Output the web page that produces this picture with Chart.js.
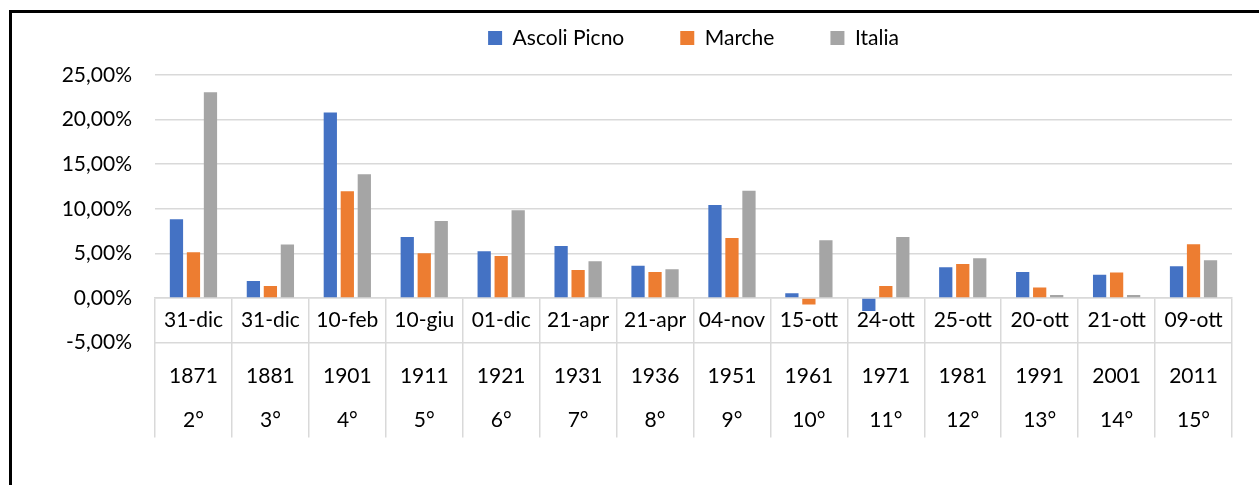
<!DOCTYPE html>
<html>
<head>
    <script src="https://cdn.jsdelivr.net/npm/chart.js@4.4.0/dist/chart.umd.min.js"></script>
    <style>
    body {
        margin: 0;
        background-color: #ffffff;
        overflow: hidden;
    }
    #frame {
        position: absolute;
        left: 9px;
        top: 10px;
        width: 1400px;
        height: 600px;
        border: 3px solid #000000;
    }
    #myChart {
        position: absolute;
        left: 0;
        top: 0;
    }
    </style>
    <title>Censimenti</title>
</head>
<body>

<div id="frame"></div>
<canvas id="myChart" width="1259" height="485"></canvas>

<script>
    // category levels (date, year, census number)
    var dates = ['31-dic', '31-dic', '10-feb', '10-giu', '01-dic', '21-apr', '21-apr', '04-nov', '15-ott', '24-ott', '25-ott', '20-ott', '21-ott', '09-ott'];
    var years = ['1871', '1881', '1901', '1911', '1921', '1931', '1936', '1951', '1961', '1971', '1981', '1991', '2001', '2011'];
    var censuses = ['2°', '3°', '4°', '5°', '6°', '7°', '8°', '9°', '10°', '11°', '12°', '13°', '14°', '15°'];

    // growth in percent
    var ascoli = [8.82, 1.90, 20.80, 6.84, 5.23, 5.83, 3.62, 10.43, 0.52, -1.46, 3.44, 2.91, 2.61, 3.55];
    var marche = [5.12, 1.35, 11.96, 5.00, 4.70, 3.14, 2.91, 6.73, -0.75, 1.35, 3.81, 1.16, 2.84, 6.02];
    var italia = [23.06, 6.00, 13.87, 8.63, 9.83, 4.11, 3.21, 12.03, 6.47, 6.84, 4.45, 0.34, 0.34, 4.23];

    var yTicks = [-5, 0, 5, 10, 15, 20, 25];

    Chart.defaults.font.family = 'Lato';
    Chart.defaults.font.size = 21;
    Chart.defaults.color = '#000000';

    var gridColor = '#d9d9d9';

    var ctx = document.getElementById('myChart').getContext('2d');
    var myChart = new Chart(ctx, {
        type: 'bar',
        data: {
            labels: dates,
            datasets: [
                { label: 'Ascoli Picno', data: ascoli, backgroundColor: '#4472c4' },
                { label: 'Marche', data: marche, backgroundColor: '#ed7d31' },
                { label: 'Italia', data: italia, backgroundColor: '#a5a5a5' }
            ]
        },
        options: {
            responsive: false,
            animation: false,
            categoryPercentage: 0.663,
            barPercentage: 0.78,
            layout: {
                padding: { top: -28.5, left: 0, right: 27, bottom: 142.5 }
            },
            scales: {
                y: {
                    min: yTicks[0],
                    max: yTicks[yTicks.length - 1],
                    afterBuildTicks: function (scale) {
                        scale.ticks = yTicks.map(function (v) { return { value: v }; });
                    },
                    afterFit: function (scale) {
                        scale.width = 155;
                    },
                    ticks: {
                        padding: 23,
                        callback: function (v) {
                            return v.toFixed(2).replace('.', ',') + '%';
                        }
                    },
                    grid: { color: gridColor, lineWidth: 1.5, drawTicks: false },
                    border: { display: false }
                },
                x: {
                    position: { y: 0 },
                    offset: true,
                    grid: {
                        offset: true,
                        drawOnChartArea: false,
                        drawTicks: true,
                        tickLength: 139,
                        color: gridColor,
                        lineWidth: 1.5
                    },
                    border: { display: true, color: gridColor, width: 1.5 },
                    ticks: { padding: -129.6, autoSkip: false, maxRotation: 0 }
                },
                // second and third label rows: hidden ticks push the text down
                x2: {
                    type: 'category',
                    labels: years,
                    position: { y: 0 },
                    offset: true,
                    grid: { display: false, drawTicks: true, tickLength: 65.4 },
                    border: { display: false },
                    ticks: { padding: 0, autoSkip: false, maxRotation: 0 }
                },
                x3: {
                    type: 'category',
                    labels: censuses,
                    position: { y: 0 },
                    offset: true,
                    grid: { display: false, drawTicks: true, tickLength: 109.4 },
                    border: { display: false },
                    ticks: { padding: 0, autoSkip: false, maxRotation: 0 }
                }
            },
            plugins: {
                legend: {
                    position: 'top',
                    fullSize: false,
                    labels: { boxWidth: 14, boxHeight: 14, padding: 56 }
                },
                // empty spacer between legend and plot
                subtitle: {
                    display: true,
                    text: '',
                    weight: 500,
                    fullSize: false,
                    padding: 0,
                    font: { size: 16.5, lineHeight: 1 }
                },
                tooltip: { enabled: false }
            }
        }
    });
</script>

</body>
</html>
